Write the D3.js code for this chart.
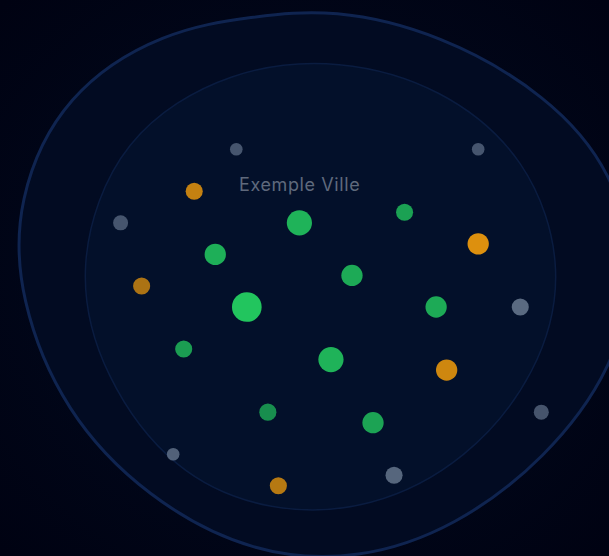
<!DOCTYPE html>
<html>
<head>
  <meta charset="utf-8">
  <style>
  html, body { margin: 0; padding: 0; background: #000212; overflow: hidden; }
  </style>
  <script src="https://d3js.org/d3.v7.min.js"></script>
</head>
<body>
  <script>
  // grid position of each place, value = size, signal = how strong the colour is
  var columns = [17, 20, 12, 9, 22, 30, 24, 27, 6, 14, 34, 31, 7, 2, 15, 0, 11, 34, 38, 40, 5, 26];
  var rows = [7, 20, 15, 10, 12, 15, 26, 6, 19, 25, 9, 21, 4, 13, 32, 7, 0, 0, 15, 25, 29, 31];
  var values = [84, 84, 99, 71, 71, 71, 71, 57, 57, 57, 71, 71, 57, 57, 57, 50, 42, 42, 57, 50, 42, 57];
  var signal = [0.9, 0.9, 1, 0.88, 0.85, 0.85, 0.82, 0.8, 0.78, 0.7, 0.9, 0.84, 0.8, 0.7, 0.74, 0.7, 0.7, 0.7, 0.9, 0.7, 0.82, 0.86];
  var kinds = ["ok", "ok", "ok", "ok", "ok", "ok", "ok", "ok", "ok", "ok", "warn", "warn", "warn", "warn", "warn", "off", "off", "off", "off", "off", "off", "off"];

  // the two outlines, same grid units
  var outerU = [20.2, 30.4, 40.6, 47.0, 49.0, 47.0, 40.4, 31.9, 22.8, 12.6, 2.5, -5.4, -9.7, -10.0, -5.4, 4.2, 12.5];
  var outerV = [-13.4, -11.0, -5.2, 2.2, 11.5, 20.8, 29.5, 35.9, 39.1, 38.6, 33.2, 25.0, 14.2, 4.9, -5.4, -11.3, -12.6];
  var innerU = [20.9, 30.4, 38.8, 42.4, 39.7, 33.0, 23.9, 14.1, 5.0, -1.7, -4.5, -0.2, 10.7];
  var innerV = [-8.6, -6.0, 0.7, 11.6, 21.4, 29.6, 34.3, 34.6, 30.8, 21.7, 11.3, -1.4, -7.8];

  var cityName = "Exemple Ville";

  var canvasWidth = 609;
  var canvasHeight = 556;

  var svg = d3.select("body")
    .append("svg")
    .attr("width", canvasWidth)
    .attr("height", canvasHeight)
    .style("display", "block");

  var x = d3.scaleLinear().domain([0, 40]).range([120.6, 541.3]);
  var y = d3.scaleLinear().domain([0, 32]).range([149.2, 485.8]);
  var r = d3.scaleLinear().domain([0, 100]).range([0, 15]);
  var colorScale = d3.scaleOrdinal()
    .domain(["ok", "warn", "off"])
    .range(["#22c55e", "#f59e0b", "#64748b"]);

  var defs = svg.append("defs");
  var grad = defs.append("radialGradient")
    .attr("id", "bg")
    .attr("cx", "50%")
    .attr("cy", "50%")
    .attr("r", "70%");
  grad.append("stop").attr("offset", "0%").attr("stop-color", "#020c22");
  grad.append("stop").attr("offset", "100%").attr("stop-color", "#000212");

  svg.append("rect")
    .attr("width", canvasWidth)
    .attr("height", canvasHeight)
    .attr("fill", "url(#bg)");

  var line = d3.line()
    .x(function(d) { return x(d[0]); })
    .y(function(d) { return y(d[1]); })
    .curve(d3.curveBasisClosed);

  svg.append("path")
    .attr("d", line(d3.zip(outerU, outerV)))
    .attr("fill", "#020b22")
    .attr("stroke", "#0f2450")
    .attr("stroke-width", 3);

  svg.append("path")
    .attr("d", line(d3.zip(innerU, innerV)))
    .attr("fill", "#03102a")
    .attr("stroke", "#0a1c40")
    .attr("stroke-width", 1.5);

  svg.selectAll("circle")
    .data(d3.range(columns.length))
    .enter()
    .append("circle")
    .attr("cx", function(i) { return x(columns[i]); })
    .attr("cy", function(i) { return y(rows[i]); })
    .attr("r", function(i) { return r(values[i]); })
    .attr("fill", function(i) { return colorScale(kinds[i]); })
    .attr("fill-opacity", function(i) { return signal[i]; });

  svg.append("text")
    .attr("x", x(17) + 0.3)
    .attr("y", 191)
    .attr("text-anchor", "middle")
    .attr("font-family", "Inter, sans-serif")
    .attr("font-size", 18)
    .attr("letter-spacing", 0.6)
    .attr("fill", "#5f697c")
    .text(cityName);
  </script>
</body>
</html>
